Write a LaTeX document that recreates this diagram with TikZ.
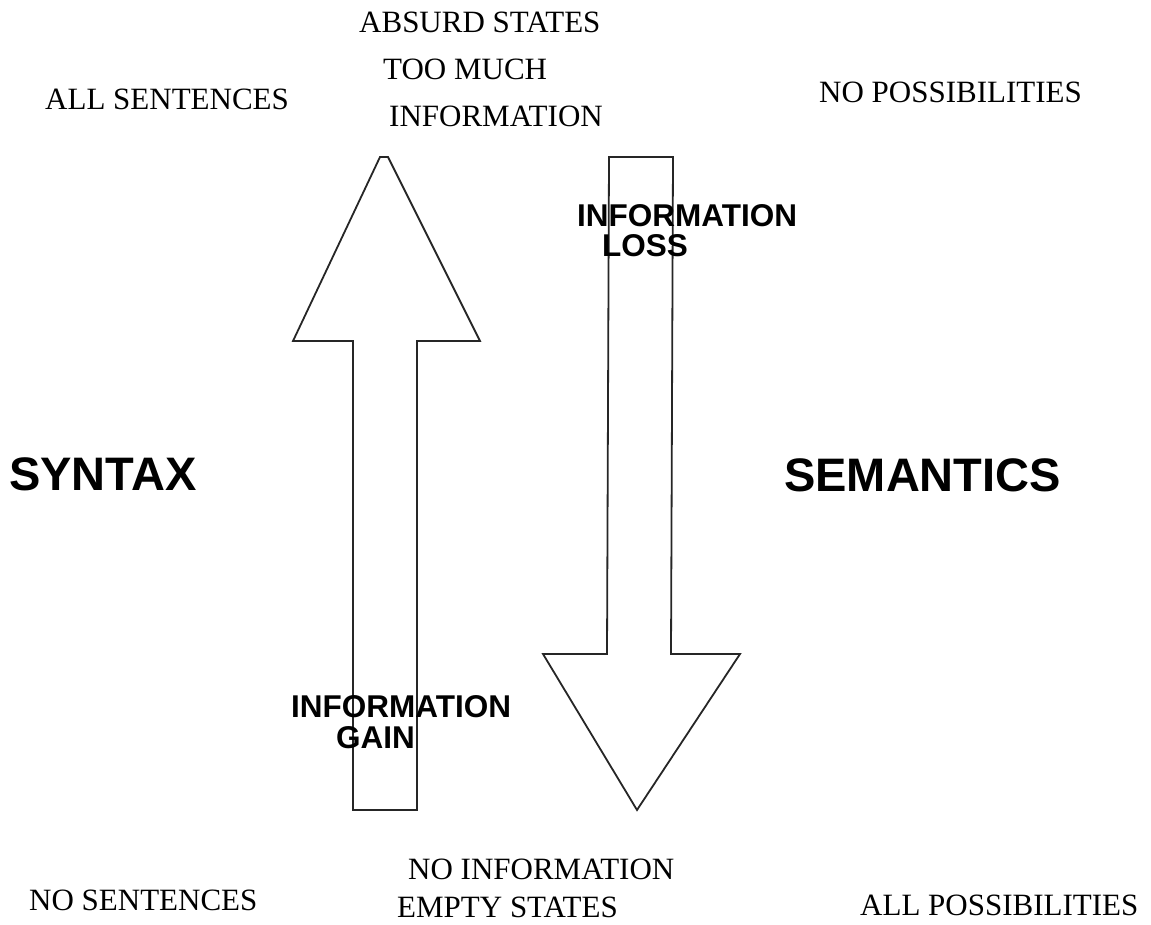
\documentclass[tikz,border=0pt]{standalone}
\usepackage{fontspec}
\setmainfont{Liberation Serif}
\newfontfamily\arialfont{Liberation Sans}
\begin{document}
\begin{tikzpicture}[x=1pt,y=-1pt,
  serif/.style={anchor=base west,inner sep=0pt,font=\fontsize{31}{31}\selectfont},
  sansb/.style={anchor=base west,inner sep=0pt,font=\arialfont\bfseries\fontsize{31.5}{31.5}\selectfont},
  title/.style={anchor=base west,inner sep=0pt,font=\arialfont\bfseries\fontsize{47}{47}\selectfont},
  arrowshape/.style={draw=black!85,line width=1.8pt,line join=miter,fill=none}]
\useasboundingbox (0,0) rectangle (1151,925);
% arrows
\draw[arrowshape] (353,810) -- (353,341) -- (293,341) -- (380,157) -- (388,157) -- (480,341) -- (417,341) -- (417,810) -- cycle;
\draw[arrowshape] (609,157) -- (673,157) -- (671,654) -- (740,654) -- (637,810) -- (543,654) -- (607,654) -- cycle;
% texts
\node[serif] (absurd) at (359,33) {ABSURD STATES};
\node[serif] (toomuch) at (383,80) {TOO MUCH};
\node[serif] (info) at (389,127) {INFORMATION};
\node[serif] (allsent) at (45,110) {ALL SENTENCES};
\node[serif] (nopos) at (819,103) {NO POSSIBILITIES};
\node[title] (syntax) at (9,490) {SYNTAX};
\node[title] (semantics) at (784,491) {SEMANTICS};
\node[sansb] (loss1) at (577,227) {INFORMATION};
\node[sansb] (loss2) at (602,257) {LOSS};
\node[sansb] (gain1) at (291,717) {INFORMATION};
\node[sansb] (gain2) at (336,748) {GAIN};
\node[serif] (noinfo) at (408,879) {NO INFORMATION};
\node[serif] (empty) at (397,917) {EMPTY STATES};
\node[serif] (nosent) at (29,910) {NO SENTENCES};
\node[serif] (allpos) at (860,915) {ALL POSSIBILITIES};
\end{tikzpicture}
\end{document}
